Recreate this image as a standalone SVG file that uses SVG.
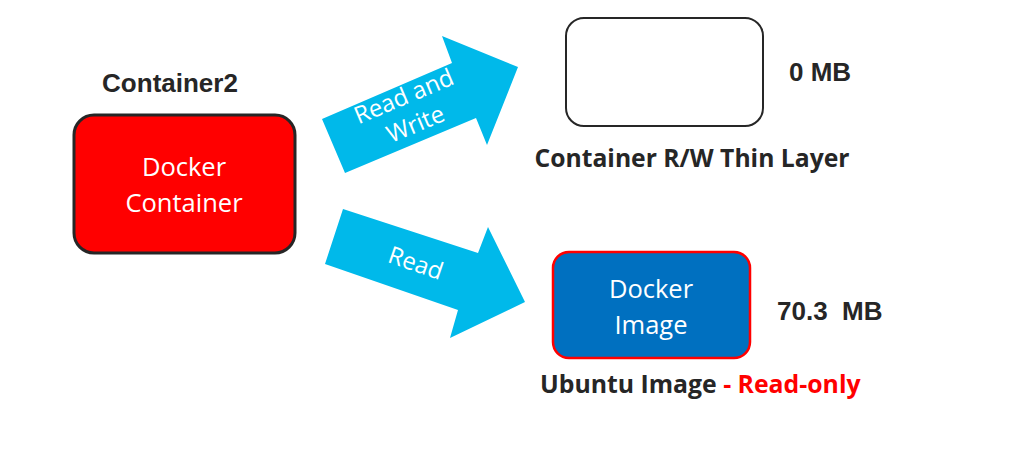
<svg xmlns="http://www.w3.org/2000/svg" width="1018" height="450" viewBox="0 0 1018 450">
<style>
.lbl{font-family:"Liberation Sans",Arial,sans-serif;font-weight:bold;fill:#262626}
.cal{font-family:"Open Sans","Noto Sans",sans-serif;font-weight:bold;fill:#262626}
.in{font-family:"Open Sans","Noto Sans",sans-serif;fill:#fff;font-size:25.5px}
.arr{fill:#00B9EA}
</style>
<rect width="1018" height="450" fill="#fff"/>
<g id="connectors">
<polygon class="arr" points="345,173 322,119 452,63 442,36 518,67 487,145 476,118"/>
<text class="in" style="font-size:24px" text-anchor="middle" transform="translate(407,104) rotate(-23)"><tspan x="0" y="0">Read and</tspan><tspan x="0" y="30">Write</tspan></text>
<polygon class="arr" points="343,209 325,264 458,310 450,338 525,302 488,227 478,253"/>
<text class="in" style="font-size:24px" text-anchor="middle" transform="translate(413,271) rotate(19)">Read</text>
</g>
<g id="container">
<text class="lbl" x="170" y="92" font-size="26" text-anchor="middle">Container2</text>
<rect x="74" y="115" width="221" height="138" rx="20" fill="#FF0000" stroke="#262626" stroke-width="3"/>
<text class="in" x="184" y="176" text-anchor="middle">Docker</text>
<text class="in" x="184" y="212" text-anchor="middle">Container</text>
</g>
<g id="thinlayer">
<rect x="566" y="18" width="197" height="108" rx="18" fill="#fff" stroke="#262626" stroke-width="2"/>
<text class="lbl" x="789" y="81" font-size="26">0 MB</text>
<text class="cal" x="692" y="167" font-size="24.7" text-anchor="middle">Container R/W Thin Layer</text>
</g>
<g id="image">
<rect x="553" y="252" width="197" height="106" rx="16" fill="#0070C0" stroke="#FF0000" stroke-width="2.5"/>
<text class="in" x="651" y="298" text-anchor="middle">Docker</text>
<text class="in" x="651" y="334" text-anchor="middle">Image</text>
<text class="lbl" x="777" y="320" font-size="26" xml:space="preserve">70.3  MB</text>
<text class="cal" x="540" y="393" font-size="24.8">Ubuntu Image <tspan fill="#FF0000">- Read-only</tspan></text>
</g>
</svg>
